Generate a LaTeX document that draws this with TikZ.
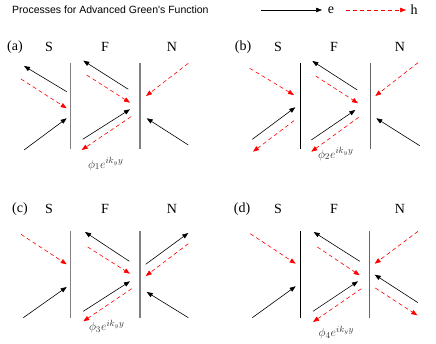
\documentclass[tikz,border=0pt]{standalone}
\usepackage{fontspec}
\setmainfont{Liberation Serif}
\newfontfamily\titlefont{Liberation Sans}
\usetikzlibrary{arrows.meta}
\tikzset{
  elec/.style={black, line width=0.6pt, -{Triangle[length=6pt,width=4.5pt]}},
  hole/.style={red, line width=0.6pt, dash pattern=on 4pt off 3pt, -{Triangle[length=6pt,width=4.5pt]}},
  ifthick/.style={gray, line width=1.4pt},
  ifthin/.style={black, line width=0.8pt},
  ifthingray/.style={gray!80!black, line width=0.8pt},
  lbl/.style={font=\fontsize{14}{14}\selectfont, inner sep=0pt},
  phil/.style={font=\fontsize{13}{13}\selectfont, inner sep=0pt, text=black!80},
}
\begin{document}
\begin{tikzpicture}[x=1pt,y=-1pt]
\useasboundingbox (0,0) rectangle (436,344);
% title and legend
\node[anchor=west, inner sep=0pt, font=\titlefont\fontsize{10.5}{10.5}\selectfont] (title) at (12,10) {Processes for Advanced Green's Function};
\coordinate (le1) at (261,10);
\coordinate (le2) at (322,10);
\node[lbl] (e) at (331,10) {e};
\coordinate (lh1) at (346,10);
\coordinate (lh2) at (406,10);
\node[lbl] (h) at (414,10) {h};
\draw[elec] (le1) -- (le2);
\draw[hole] (lh1) -- (lh2);

% ---------- panel (a)
\begin{scope}[shift={(70.7,63)}]
\node[lbl] (pa) at (-55.7,-16) {(a)};
\node[lbl] (Sa) at (-21.7,-16) {S};
\node[lbl] (Fa) at (34.3,-16) {F};
\node[lbl] (Na) at (101.3,-16) {N};
\coordinate (a1t) at (0,0); \coordinate (a1b) at (0,86);
\coordinate (a2t) at (69.3,0); \coordinate (a2b) at (69.3,86);
\draw[ifthick] (a1t) -- (a1b);
\draw[ifthick] (a2t) -- (a2b);
\draw[elec] (-4,28.7) -- (-46.7,3);
\draw[hole] (-49.7,16) -- (-4,45.3);
\draw[elec] (-46.7,87) -- (-4,55.3);
\draw[elec] (57.6,26.3) -- (12.6,-2.3);
\draw[hole] (16,12) -- (59.3,39.7);
\draw[elec] (12,76.3) -- (59.3,46.3);
\draw[hole] (60.3,53.7) -- (11,87);
\draw[hole] (117.6,0.3) -- (75.3,33);
\draw[elec] (117.6,82) -- (76,55.3);
\node[phil] (la) at (35,101) {$\phi_1e^{ik_yy}$};
\end{scope}

% ---------- panel (b)
\begin{scope}[shift={(300.7,63)}]
\node[lbl] (pb) at (-57.7,-16) {(b)};
\node[lbl] (Sb) at (-22.7,-16) {S};
\node[lbl] (Fb) at (33.3,-16) {F};
\node[lbl] (Nb) at (99.3,-16) {N};
\coordinate (b1t) at (0,0); \coordinate (b1b) at (0,86);
\coordinate (b2t) at (69.3,0); \coordinate (b2b) at (69.3,86);
\draw[ifthin] (b1t) -- (b1b);
\draw[ifthingray] (b2t) -- (b2b);
\draw[hole] (-51,5.3) -- (-6.7,32);
\draw[elec] (-48.4,76.3) -- (-5.4,44.3);
\draw[hole] (-6.7,57.7) -- (-47.7,88.7);
\draw[elec] (56.6,27) -- (11.6,-2);
\draw[hole] (15,13) -- (57.3,40.3);
\draw[elec] (10.6,77) -- (54.6,47);
\draw[hole] (58,54.3) -- (10.6,88.7);
\draw[hole] (117.3,-0.3) -- (74.6,33);
\draw[elec] (119,82.7) -- (75.6,55.3);
\node[phil] (lb) at (35,91) {$\phi_2e^{ik_yy}$};
\end{scope}

% ---------- panel (c)
\begin{scope}[shift={(70.7,231.3)}]
\node[lbl] (pc) at (-50.7,-22.6) {(c)};
\node[lbl] (Sc) at (-21.7,-22.6) {S};
\node[lbl] (Fc) at (34.3,-22.6) {F};
\node[lbl] (Nc) at (101.3,-22.6) {N};
\coordinate (c1t) at (0,0); \coordinate (c1b) at (0,86.4);
\coordinate (c2t) at (69.3,0); \coordinate (c2b) at (69.3,86.4);
\draw[ifthick] (c1t) -- (c1b);
\draw[ifthick] (c2t) -- (c2b);
\draw[hole] (-49.7,3) -- (-4,33);
\draw[elec] (-47.4,86.4) -- (-4,55.7);
\draw[elec] (58.6,30) -- (14.3,0.7);
\draw[hole] (17,15.7) -- (59.3,42.4);
\draw[elec] (12.6,80) -- (59.3,50);
\draw[hole] (61,57.4) -- (12.6,90);
\draw[elec] (75,33) -- (117.6,1.7);
\draw[hole] (117.6,12.4) -- (75,44.7);
\draw[elec] (117.6,86.4) -- (76,60.7);
\node[phil] (lc) at (36,95) {$\phi_3e^{ik_yy}$};
\end{scope}

% ---------- panel (d)
\begin{scope}[shift={(300.3,231.3)}]
\node[lbl] (pd) at (-58.3,-22.6) {(d)};
\node[lbl] (Sd) at (-22.3,-22.6) {S};
\node[lbl] (Fd) at (33.7,-22.6) {F};
\node[lbl] (Nd) at (99.7,-22.6) {N};
\coordinate (d1t) at (0,0); \coordinate (d1b) at (0,86.4);
\coordinate (d2t) at (69.4,0); \coordinate (d2b) at (69.4,86.4);
\draw[ifthin] (d1t) -- (d1b);
\draw[ifthingray] (d2t) -- (d2b);
\draw[hole] (-50,2.4) -- (-4.6,32.4);
\draw[elec] (-48,86.4) -- (-4.6,55);
\draw[elec] (59.4,30) -- (13.4,0.7);
\draw[hole] (17,15.7) -- (59.4,44);
\draw[elec] (12.7,80) -- (57.7,50);
\draw[hole] (61,57.4) -- (12.7,90.7);
\draw[hole] (117.7,0) -- (74.4,32.4);
\draw[elec] (117.7,71.4) -- (74.4,43.4);
\draw[hole] (75,56.7) -- (117,84);
\node[phil] (ld) at (36,101.4) {$\phi_4e^{ik_yy}$};
\end{scope}
\end{tikzpicture}
\end{document}
